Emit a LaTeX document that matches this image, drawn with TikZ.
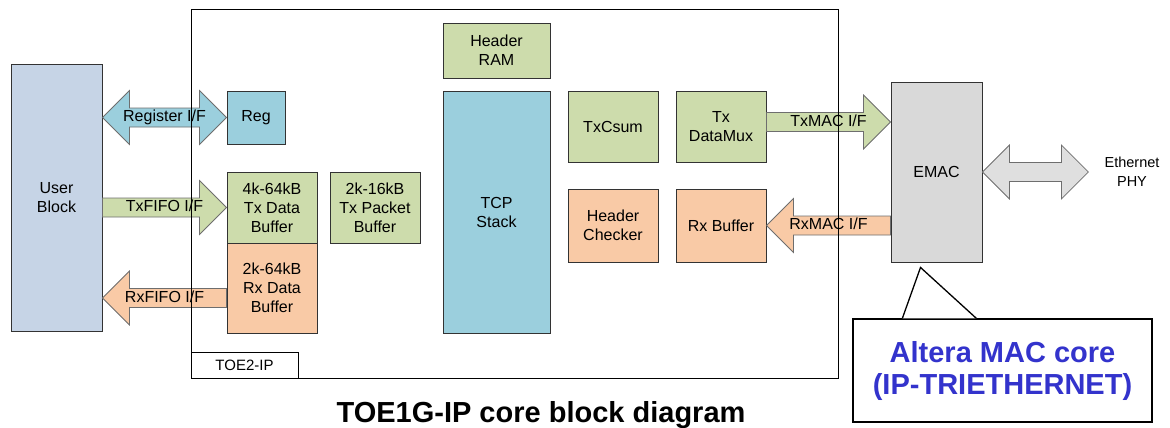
\documentclass[tikz,border=0pt]{standalone}
\usepackage{fontspec}
\setmainfont{Liberation Sans}
\usetikzlibrary{calc,positioning}
\definecolor{userfill}{HTML}{C6D4E6}
\definecolor{bluefill}{HTML}{9BCFDD}
\definecolor{greenfill}{HTML}{CDDCAC}
\definecolor{orangefill}{HTML}{F9CAA6}
\definecolor{grayfill}{HTML}{D9D9D9}
\definecolor{boxline}{HTML}{333333}
\definecolor{arrowline}{HTML}{6E6E6E}
\definecolor{notetext}{HTML}{3333CC}
\tikzstyle{blockbox}=[draw=boxline, line width=0.9pt, align=center, inner sep=0, font=\fontsize{16}{19}\selectfont]
\tikzstyle{arrowlabel}=[inner sep=0, text height=11.5pt, text depth=3.5pt, font=\fontsize{16}{19}\selectfont]
\tikzstyle{flowarrow}=[draw=arrowline, line width=0.8pt, line join=miter]
\newcommand{\blocknode}[6]{\node[blockbox, fill=#2, minimum width=#4pt, minimum height=#5pt] (#1) at (#3) {#6};}
% single block arrow: style, tail, tip, label name, label
\newcommand{\blockarrow}[5]{%
  \draw[flowarrow, #1] let \p1=(#2), \p2=(#3), \n1={ifthenelse(\x2>\x1,1,-1)} in
    (\x1,\y1+9.5pt) -- (\x2-\n1*27pt,\y1+9.5pt) -- (\x2-\n1*27pt,\y1+27pt) -- (\x2,\y1)
    -- (\x2-\n1*27pt,\y1-27pt) -- (\x2-\n1*27pt,\y1-9.5pt) -- (\x1,\y1-9.5pt) -- cycle;
  \node[arrowlabel] (#4) at ($(#2)!0.5!(#3)$) {#5};}
% double block arrow: style, left tip, right tip, label name, label
\newcommand{\dblarrow}[5]{%
  \draw[flowarrow, #1] let \p1=(#2), \p2=(#3) in
    (\x1,\y1) -- (\x1+27pt,\y1+27pt) -- (\x1+27pt,\y1+9.5pt) -- (\x2-27pt,\y1+9.5pt)
    -- (\x2-27pt,\y1+27pt) -- (\x2,\y1) -- (\x2-27pt,\y1-27pt) -- (\x2-27pt,\y1-9.5pt)
    -- (\x1+27pt,\y1-9.5pt) -- (\x1+27pt,\y1-27pt) -- cycle;
  \node[arrowlabel] (#4) at ($(#2)!0.5!(#3)$) {#5};}

\begin{document}
\begin{tikzpicture}[x=1pt, y=-1pt]
\useasboundingbox (0,0) rectangle (1170,428);

% user side and buffers
\blocknode{user}{userfill}{56.5,197.5}{91}{267}{User\\Block}
\blocknode{reg}{bluefill}{256,117.5}{58}{53}{Reg}
\blocknode{txdbuf}{greenfill}{272,207.5}{90}{71}{4k-64kB\\Tx Data\\Buffer}
\blocknode{rxdbuf}{orangefill}{272,288}{90}{90}{2k-64kB\\Rx Data\\Buffer}
\blocknode{txpbuf}{greenfill}{375,207.5}{90}{71}{2k-16kB\\Tx Packet\\Buffer}

% core
\blocknode{hdram}{greenfill}{496.5,50.5}{107}{55}{Header\\RAM}
\blocknode{tcp}{bluefill}{496.5,212}{107}{242}{TCP\\Stack}
\blocknode{txcsum}{greenfill}{613,126.5}{90}{71}{TxCsum}
\blocknode{txmux}{greenfill}{721,126.5}{90}{71}{Tx\\DataMux}
\blocknode{hdchk}{orangefill}{613,225.5}{90}{73}{Header\\Checker}
\blocknode{rxbuf}{orangefill}{721,225.5}{90}{73}{Rx Buffer}

% MAC side
\blocknode{emac}{grayfill}{936.5,172}{91}{180}{EMAC}
\node[align=center, inner sep=0, font=\fontsize{14.5}{19}\selectfont] (phy) at (1132,172) {Ethernet\\PHY};

\coordinate (regL) at (user.east |- reg.west);
\coordinate (txfifoT) at (user.east |- txdbuf.west);
\coordinate (rxfifoT) at ($(rxdbuf.west)+(0,10)$);
\coordinate (rxfifoH) at (user.east |- rxfifoT);
\coordinate (txmacT) at ($(txmux.east)+(0,-4.5)$);
\coordinate (txmacH) at (emac.west |- txmacT);
\coordinate (rxmacT) at (emac.west |- rxbuf.east);
\coordinate (ethR) at ($(phy.west)+(-16,0)$);

\dblarrow{fill=bluefill}{regL}{reg.west}{reglbl}{Register I/F}
\blockarrow{fill=greenfill}{txfifoT}{txdbuf.west}{txfifolbl}{TxFIFO I/F}
\blockarrow{fill=orangefill}{rxfifoT}{rxfifoH}{rxfifolbl}{RxFIFO I/F}
\blockarrow{fill=greenfill}{txmacT}{txmacH}{txmaclbl}{TxMAC I/F}
\blockarrow{fill=orangefill}{rxmacT}{rxbuf.east}{rxmaclbl}{RxMAC I/F}
\dblarrow{fill=grayfill!85}{emac.east}{ethR}{ethlbl}{}

% TOE2-IP frame
\node[draw=black, line width=1pt, minimum width=647pt, minimum height=368pt] (toe) at (514.5,194) {};
\node[draw=black, line width=1pt, fill=white, anchor=south west, minimum width=107pt, minimum height=26pt, inner sep=0, font=\fontsize{15}{18}\selectfont] (toelbl) at (toe.south west) {TOE2-IP};

% callout
\node[draw=black, line width=1.3pt, fill=white, align=center, minimum width=299pt, minimum height=103pt, inner sep=0,
  text=notetext, font=\fontsize{29}{32}\selectfont\bfseries] (note) at (1002.5,370.5) {Altera MAC core\\(IP-TRIETHERNET)};
\coordinate (tip) at ($(emac.south)+(-16,5)$);
\fill[white] ($(note.north west)+(50,0)$) -- (tip) -- ($(note.north west)+(124,0)$) -- cycle;
\draw[line width=1.3pt] ($(note.north west)+(50,0)$) -- (tip) -- ($(note.north west)+(124,0)$);

\node[anchor=base, inner sep=0, font=\fontsize{29}{32}\selectfont\bfseries] (title) at (541,422) {TOE1G-IP core block diagram};
\end{tikzpicture}
\end{document}
